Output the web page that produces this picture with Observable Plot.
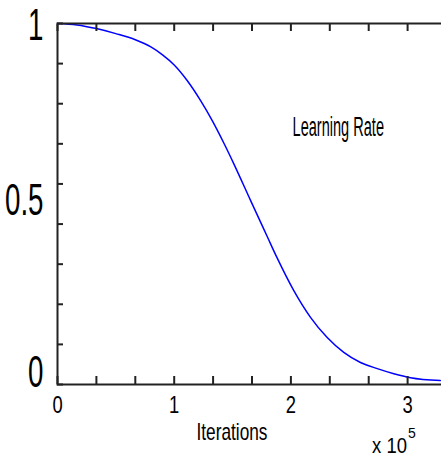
<!DOCTYPE html>
<html><head><meta charset="utf-8">
<script src="https://cdn.jsdelivr.net/npm/d3@7"></script>
<script src="https://cdn.jsdelivr.net/npm/@observablehq/plot@0.6"></script>
<style>body{margin:0;background:#fff}</style>
</head><body><div id="chart"></div>
<script>
// Iterations (x 10^5) and learning rate
const iterations   = [0, 0.167, 0.333, 0.5, 0.667, 0.8, 0.9, 1.0, 1.111, 1.225, 1.326, 1.425, 1.51, 1.654, 1.797, 1.883, 2.025, 2.168, 2.311, 2.453, 2.596, 2.74, 2.882, 3.025, 3.28];
const learningRate = [1, 0.996, 0.986, 0.972, 0.955, 0.935, 0.913, 0.885, 0.842, 0.787, 0.731, 0.669, 0.612, 0.51, 0.41, 0.35, 0.26, 0.186, 0.13, 0.089, 0.061, 0.044, 0.03, 0.019, 0.011];
const xTickMinor  = [0, 0.3333, 0.6667, 1, 1.3333, 1.6667, 2, 2.3333, 2.6667, 3, 3.3333];
const xTickLabels = [0, 1, 2, 3];
const yTickMinor  = [0, 0.1111, 0.2222, 0.3333, 0.4444, 0.5556, 0.6667, 0.7778, 0.8889, 1];
const yTickLabels = [0, 0.5, 1];
const seriesLabel = "Learning Rate";
const xLabel = "Iterations";
const xScaleBase = "x 10";
const xScaleExp = "5";
const annotationAt = {x: 2.406, y: 0.712};

const data = iterations.map((x, i) => ({x, y: learningRate[i]}));
const font = '"Liberation Sans",Arial,sans-serif';

const yLabelAxis = (v, dy) => Plot.axisY({anchor: "left", ticks: [v], tickSize: 0, tickPadding: 14,
  tickFormat: d => String(d), fontSize: 44, label: null, dy, fill: "#000"});

const chart = Plot.plot({
  width: 441, height: 457,
  marginLeft: 57, marginTop: 23, marginBottom: 73, marginRight: -5,
  x: {domain: [0, 3.3333]}, y: {domain: [0, 1]},
  style: {fontFamily: font, background: "#fff", color: "#000"},
  marks: [
    Plot.line(data, {x: "x", y: "y", stroke: "#0000ff", strokeWidth: 1.5, curve: "monotone-x"}),
    Plot.frame({stroke: "#222", strokeWidth: 2}),
    Plot.axisX({anchor: "bottom", ticks: xTickMinor, tickSize: -8, tickFormat: () => "", label: null, stroke: "#222", strokeWidth: 2}),
    Plot.axisX({anchor: "top", ticks: xTickMinor, tickSize: -7, tickFormat: () => "", label: null, stroke: "#222", strokeWidth: 2}),
    Plot.axisY({anchor: "left", ticks: yTickMinor, tickSize: -6, tickFormat: () => "", label: null, stroke: "#222", strokeWidth: 2}),
    Plot.axisY({anchor: "right", ticks: yTickMinor, tickSize: -6, tickFormat: () => "", label: null, stroke: "#222", strokeWidth: 2}),
    Plot.axisX({anchor: "bottom", ticks: xTickLabels, tickSize: 0, tickPadding: 12, tickFormat: d => String(d),
      fontSize: 23, label: null, fill: "#000"}),
    yLabelAxis(yTickLabels[2], 2.7),
    yLabelAxis(yTickLabels[1], -2.8),
    yLabelAxis(yTickLabels[0], -11.3),
    Plot.text([seriesLabel], {x: annotationAt.x, y: annotationAt.y, text: d => d, fontSize: 28, fill: "#000",
      textAnchor: "middle", lineAnchor: "middle"}),
    Plot.text([xLabel], {frameAnchor: "bottom", text: d => d, dx: -20, dy: 48, fontSize: 23, fill: "#000",
      textAnchor: "middle", lineAnchor: "middle"}),
    Plot.text([xScaleBase], {frameAnchor: "bottom-right", text: d => d, dx: -57, dy: 61.5, fontSize: 22, fill: "#000",
      textAnchor: "middle", lineAnchor: "middle"}),
    Plot.text([xScaleExp], {frameAnchor: "bottom-right", text: d => d, dx: -34.5, dy: 49.5, fontSize: 14, fill: "#000",
      textAnchor: "middle", lineAnchor: "middle"})
  ]
});

// horizontally condense a text in place around its anchor point
function squeeze(el, sx) {
  const t = el.getAttribute("transform") || "";
  const x = el.getAttribute("x");
  let nx = 0;
  if (x != null && isFinite(+x)) { nx = +x; el.setAttribute("x", 0); }
  el.setAttribute("transform", `${t} translate(${nx},0) scale(${sx},1)`);
}
const squeezeBy = {[seriesLabel]: 0.52, [xLabel]: 0.75, [xScaleBase]: 0.84};
chart.querySelectorAll("text").forEach(el => {
  const g = el.closest("g");
  const al = g ? g.getAttribute("aria-label") : null;
  const s = el.textContent;
  if (al === "y-axis tick label") squeeze(el, 0.63);
  else if (al === "x-axis tick label") squeeze(el, 0.8);
  else if (s in squeezeBy) squeeze(el, squeezeBy[s]);
});
document.getElementById("chart").appendChild(chart);
</script>
</body></html>
